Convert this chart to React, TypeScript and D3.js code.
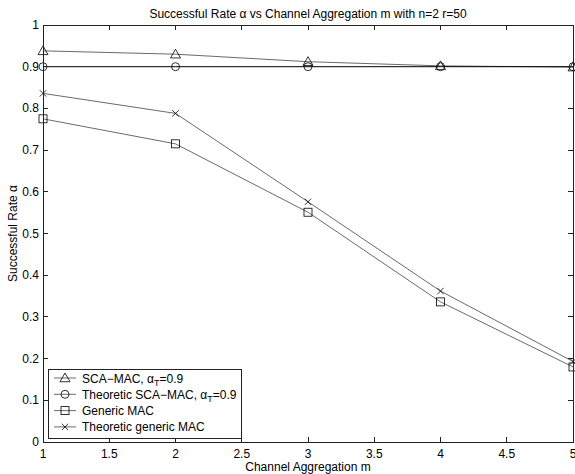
import * as d3 from 'd3';

const W = 575;
const H = 474;
const margin = { left: 43, right: 2, top: 25, bottom: 32 };

const mValues = [1, 2, 3, 4, 5];
const scaMac = [0.938, 0.93, 0.912, 0.902, 0.899];
const theoreticScaMac = [0.9, 0.9, 0.9, 0.9, 0.9];
const genericMac = [0.775, 0.715, 0.551, 0.336, 0.18];
const theoreticGeneric = [0.836, 0.788, 0.576, 0.362, 0.193];

const xTicks = [1, 1.5, 2, 2.5, 3, 3.5, 4, 4.5, 5];
const yTicks = [0, 0.1, 0.2, 0.3, 0.4, 0.5, 0.6, 0.7, 0.8, 0.9, 1];

const font = 'Arial, "Liberation Sans", Helvetica, sans-serif';
const fs = 12;

type Marker = 'triangle' | 'circle' | 'square' | 'cross';

const series: { name: string; sub?: string; suffix?: string; values: number[]; marker: Marker }[] = [
  { name: 'SCA\u2212MAC, \u03b1', sub: 'T', suffix: '=0.9', values: scaMac, marker: 'triangle' },
  { name: 'Theoretic SCA\u2212MAC, \u03b1', sub: 'T', suffix: '=0.9', values: theoreticScaMac, marker: 'circle' },
  { name: 'Generic MAC', values: genericMac, marker: 'square' },
  { name: 'Theoretic generic MAC', values: theoreticGeneric, marker: 'cross' },
];

const MarkerShape = ({ type, x, y }: { type: Marker; x: number; y: number }) => {
  const stroke = '#000';
  if (type === 'triangle') {
    const s = 5;
    return (
      <path
        d={`M${x},${y - s} L${x + s},${y + s * 0.75} L${x - s},${y + s * 0.75} Z`}
        fill="none"
        stroke={stroke}
        strokeWidth={0.8}
      />
    );
  }
  if (type === 'circle') {
    return <circle cx={x} cy={y} r={4} fill="none" stroke={stroke} strokeWidth={0.8} />;
  }
  if (type === 'square') {
    return <rect x={x - 4} y={y - 4} width={8} height={8} fill="none" stroke={stroke} strokeWidth={0.8} />;
  }
  const s = 3.2;
  return (
    <path
      d={`M${x - s},${y - s} L${x + s},${y + s} M${x - s},${y + s} L${x + s},${y - s}`}
      stroke={stroke}
      strokeWidth={0.8}
    />
  );
};

export default function App() {
  const x = d3.scaleLinear().domain([1, 5]).range([margin.left, W - margin.right]);
  const y = d3.scaleLinear().domain([0, 1]).range([H - margin.bottom, margin.top]);

  const line = d3
    .line<number>()
    .x((_, i) => x(mValues[i]))
    .y((d) => y(d));

  const x0 = x(1);
  const x1 = x(5);
  const y0 = y(0);
  const y1 = y(1);

  const legX = 48;
  const legY = 369;
  const legW = 193;
  const legH = 69;
  const rowH = 16.3;

  return (
    <svg
      width={W}
      height={H}
      style={{ position: 'absolute', left: 0, top: 0, background: '#fff' }}
      fontFamily={font}
    >
      <rect width={W} height={H} fill="#fff" />
      <text x={(x0 + x1) / 2} y={18} textAnchor="middle" fontSize={fs} fill="#000">
        Successful Rate {'\u03b1'} vs Channel Aggregation m with n=2 r=50
      </text>

      {/* data lines */}
      {series.map((s) => (
        <g key={s.name}>
          <path
            d={line(s.values) || ''}
            fill="none"
            stroke={s.marker === 'circle' ? '#000' : '#444'}
            strokeWidth={s.marker === 'circle' ? 1 : 0.8}
          />
          {s.values.map((v, i) => (
            <MarkerShape key={i} type={s.marker} x={x(mValues[i])} y={y(v)} />
          ))}
        </g>
      ))}

      {/* axes box */}
      <g shapeRendering="crispEdges" stroke="#222" strokeWidth={1}>
        <rect x={x0} y={y1} width={x1 - x0} height={y0 - y1} fill="none" />
        {xTicks.map((t) => (
          <g key={t}>
            <line x1={x(t)} x2={x(t)} y1={y0} y2={y0 - 5} />
            <line x1={x(t)} x2={x(t)} y1={y1} y2={y1 + 5} />
          </g>
        ))}
        {yTicks.map((t) => (
          <g key={t}>
            <line x1={x0} x2={x0 + 5} y1={y(t)} y2={y(t)} />
            <line x1={x1} x2={x1 - 5} y1={y(t)} y2={y(t)} />
          </g>
        ))}
      </g>

      {/* tick labels */}
      <g fontSize={fs} fill="#000">
        {xTicks.map((t) => (
          <text key={t} x={x(t)} y={458} textAnchor="middle">
            {t}
          </text>
        ))}
        {yTicks.map((t) => (
          <text key={t} x={x0 - 4} y={y(t) + 4} textAnchor="end">
            {t}
          </text>
        ))}
      </g>

      <text x={(x0 + x1) / 2} y={471} textAnchor="middle" fontSize={fs} fill="#000">
        Channel Aggregation m
      </text>
      <text
        transform={`translate(17, ${(y0 + y1) / 2}) rotate(-90)`}
        textAnchor="middle"
        fontSize={fs}
        fill="#000"
      >
        Successful Rate {'\u03b1'}
      </text>

      {/* legend */}
      <g>
        <rect
          x={legX}
          y={legY}
          width={legW}
          height={legH}
          fill="#fff"
          stroke="#222"
          strokeWidth={1}
          shapeRendering="crispEdges"
        />
        {series.map((s, i) => {
          const cy = legY + 9 + i * rowH;
          return (
            <g key={s.name}>
              <line x1={54} x2={76} y1={cy} y2={cy} stroke="#444" strokeWidth={0.8} />
              <MarkerShape type={s.marker} x={65} y={cy} />
              <text x={82} y={cy + 4.5} fontSize={fs} fill="#000">
                {s.name}
                {s.sub && (
                  <tspan fontSize={9} dy={3}>
                    {s.sub}
                  </tspan>
                )}
                {s.suffix && <tspan dy={s.sub ? -3 : 0}>{s.suffix}</tspan>}
              </text>
            </g>
          );
        })}
      </g>
    </svg>
  );
}
